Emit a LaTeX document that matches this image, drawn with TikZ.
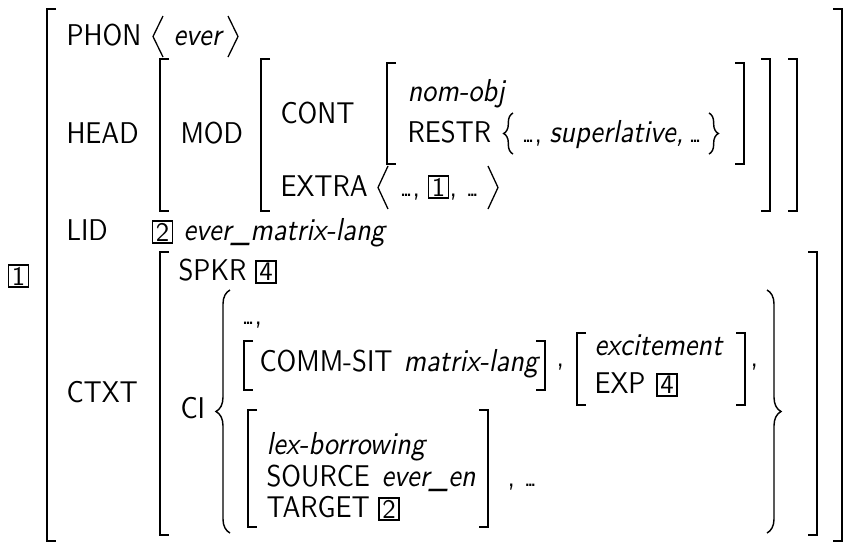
\documentclass[tikz,border=0pt]{standalone}
\usepackage{fontspec}
\usetikzlibrary{decorations.pathreplacing}

% tight ellipsis used inside the value lists
\newcommand\eld{\scalebox{0.95}{.\kern-.16em.\kern-.16em.}}
% square brackets: x, top, bottom (picture units, y grows downwards)
\newcommand\avmL[3]{\draw[brk] ({#1+9},#2) -| (#1,#3) -- ({#1+9},#3);}
\newcommand\avmR[3]{\draw[brk] ({#1-9},#2) -| (#1,#3) -- ({#1-9},#3);}
% angle brackets: x, top, bottom
\newcommand\avmLA[3]{\draw[ang] ({#1+10},#2) -- (#1,{(#2+#3)/2}) -- ({#1+10},#3);}
\newcommand\avmRA[3]{\draw[ang] (#1,#2) -- ({#1+10},{(#2+#3)/2}) -- (#1,#3);}
% curly braces: x of the tip, width, top, bottom, amplitude
\newcommand\avmLB[5]{\draw[brc=#5] ({#1+#2},#4) -- ({#1+#2},#3);}
\newcommand\avmRB[5]{\draw[brc=#5] (#1,#3) -- (#1,#4);}

\tikzset{
  avm/.style={font=\fontsize{10.3}{12.5}\selectfont\sffamily, inner sep=0pt,
              anchor=base west, yscale=1.12},
  val/.style={avm, font=\fontsize{10.9}{13}\selectfont\sffamily\itshape},
  tag/.style={draw, line width=0.5pt, inner sep=0pt, minimum width=7.8pt,
              minimum height=8.4pt, font=\fontsize{10.3}{12.5}\selectfont\sffamily},
  brk/.style={line width=0.8pt},
  ang/.style={line width=0.5pt},
  brc/.style={line width=0.55pt, decorate, decoration={brace, amplitude=#1}},
}

\begin{document}
\begin{tikzpicture}[x=0.3846pt, y=-0.3846pt]
\useasboundingbox[fill=white] (0,0) rectangle (844,543);

% outer structure
\node[tag] (t1) at (18.5,276) {1};
\avmL{47}{9}{541}
\avmR{842}{9}{541}

% PHON
\node[avm] (phon) at (66,45) {PHON};
\avmLA{153}{16}{57}
\node[val] (ever) at (173,45) {ever};
\avmRA{228}{16}{57}

% HEAD
\node[avm] (head) at (66,143) {HEAD};
\avmL{160}{59}{211}
\node[avm] (mod) at (180,143) {MOD};
\avmL{261}{59}{211}
\node[avm] (cont) at (280,123) {CONT};
\avmL{387}{63}{164}
\node[val] (nomobj) at (407,101) {nom-obj};
\node[avm] (restr) at (407,142) {RESTR};
\avmLB{503}{10}{113}{154}{3.6pt}
\node[avm] (restrA) at (521,142) {\eld,};
\node[val] (restrB) at (549,142) {superlative,};
\node[avm] (restrC) at (688,142) {\eld};
\avmRB{709}{10}{113}{154}{3.6pt}
\avmR{744}{63}{164}
\node[avm] (extra) at (280,196) {EXTRA};
\avmLA{378}{166}{209}
\node[avm] (extraA) at (399,196) {\eld,};
\node[tag] (t1b) at (438.5,187) {1};
\node[avm] (extraB) at (449,196) {,\ \eld};
\avmRA{488}{166}{209}
\avmR{770}{59}{211}
\avmR{797}{59}{211}

% LID
\node[avm] (lid) at (66,240) {LID};
\node[tag] (t2) at (162.5,232) {2};
\node[val] (lidval) at (183,240) {ever\_matrix-lang};

% CTXT
\node[avm] (ctxt) at (66,402) {CTXT};
\avmL{160}{252}{535}
\node[avm] (spkr) at (178,280) {SPKR};
\node[tag] (t4) at (266,272) {4};
\node[avm] (ci) at (180,418) {CI};
\avmLB{216}{14}{290}{533}{5.4pt}
\node[avm] (ciA) at (241,324) {\eld,};

\avmL{244}{341}{390}
\node[avm] (comm) at (259,371) {COMM-SIT};
\node[val] (ml) at (403,371) {matrix-lang};
\avmR{545}{341}{390}
\node[avm] (ciB) at (556,366) {,};

\avmL{577}{333}{405}
\node[val] (exc) at (594,355) {excitement};
\node[avm] (exp) at (594,393) {EXP};
\node[tag] (t4b) at (667,385) {4};
\avmR{745}{333}{405}
\node[avm] (ciC) at (750,366) {,};

\avmL{248}{410}{527}
\node[val] (lex) at (266,454) {lex-borrowing};
\node[avm] (src) at (266,486) {SOURCE};
\node[val] (srcval) at (381,486) {ever\_en};
\node[avm] (tgt) at (266,517) {TARGET};
\node[tag] (t2b) at (389,509) {2};
\avmR{488}{410}{527}
\node[avm] (ciD) at (507,486) {,\ \eld};

\avmRB{767}{14}{290}{533}{5.4pt}
\avmR{817}{252}{535}
\end{tikzpicture}
\end{document}
